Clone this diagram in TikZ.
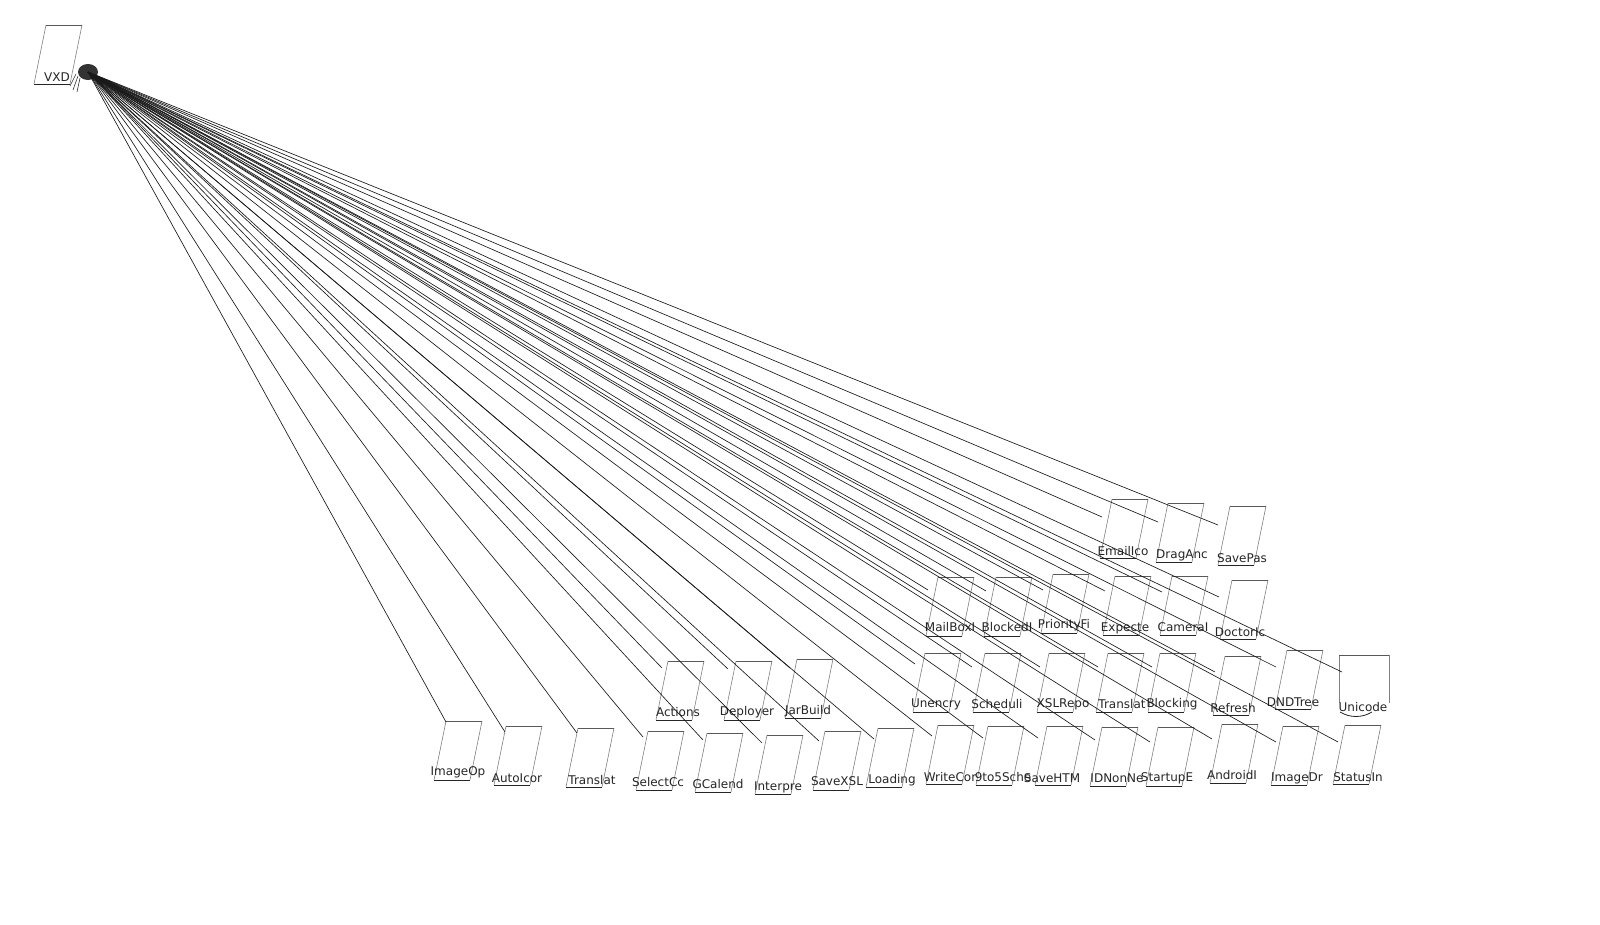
\documentclass[tikz,border=0pt]{standalone}
\usepackage{fontspec}
\setmainfont{DejaVu Sans}
\usetikzlibrary{shapes.geometric}
\tikzset{
  pgside/.style={draw=black!50,line width=0.6pt},
  pgtop/.style={draw=black!65,line width=0.7pt},
  pgbot/.style={draw=black!85,line width=0.8pt},
  lbl/.style={inner sep=0pt,text=black!85,font=\fontsize{12}{12}\selectfont},
  edge/.style={draw=black!90,line width=0.65pt},
}
\newcommand\pgn[8]{%
  \draw[pgside] (#2,#3) -- ++(-12,59);
  \draw[pgside] ({#2+36},#3) -- ++(-12,59);
  \draw[pgtop] (#2,#3) -- ++(36,0);
  \draw[pgbot] ({#2-12},{#3+59}) -- ++(36,0);
  \node[lbl] (#1) at (#5,#6) {#4};
  \coordinate (#1-e) at (#7,#8);
}
\begin{document}
\begin{tikzpicture}[x=1pt,y=-1pt]
\useasboundingbox[fill=white] (0,0) rectangle (1600,924);
% root
\pgn{vxd}{46}{25}{VXD}{57}{77}{87}{74}
\node[ellipse,fill=black!80,minimum width=20pt,minimum height=16pt,inner sep=0pt] (hub) at (88,72) {};
\draw[black!80,line width=0.6pt] (78,76) -- (73,90) (80,78) -- (77,92) (76,74) -- (70,86);
% row 1
\pgn{a1}{1112}{499}{EmailIco}{1123}{551}{1102}{517}
\pgn{a2}{1168}{503}{DragAnc}{1182}{555}{1158}{522}
\pgn{a3}{1230}{506}{SavePas}{1242}{558}{1218}{525}
% row 2
\pgn{b1}{938}{577}{MailBoxI}{950}{627}{928}{590}
\pgn{b2}{996}{577}{BlockedI}{1007}{627}{986}{591}
\pgn{b3}{1053}{574}{PriorityFi}{1064}{625}{1043}{590}
\pgn{b4}{1115}{576}{Expecte}{1125}{628}{1105}{591}
\pgn{b5}{1172}{576}{CameraI}{1183}{627}{1162}{592}
\pgn{b6}{1232}{580}{DoctorIc}{1240}{632}{1219}{597}
% row 3
\pgn{c1}{668}{661}{Actions}{678}{712}{662}{668}
\pgn{c2}{736}{661}{Deployer}{747}{712}{728}{669}
\pgn{c3}{797}{659}{JarBuild}{808}{711}{790}{668}
\pgn{c4}{925}{653}{Unencry}{936}{704}{915}{664}
\pgn{c5}{985}{653}{Scheduli}{997}{704}{972}{667}
\pgn{c6}{1049}{653}{XSLRepo}{1063}{704}{1040}{667}
\pgn{c7}{1108}{653}{Translat}{1122}{704}{1098}{667}
\pgn{c8}{1160}{653}{Blocking}{1172}{704}{1152}{667}
\pgn{c9}{1225}{656}{Refresh}{1233}{708}{1215}{672}
\pgn{c10}{1287}{650}{DNDTree}{1293}{702}{1276}{667}
% Unicode (rectangle)
\draw[pgside] (1339,655) -- (1339,703);
\draw[pgside] (1389,655) -- (1389,703);
\draw[pgtop] (1339,655) -- (1389,655);
\node[lbl] (c11) at (1363,707) {Unicode};
\draw[pgbot] (1340,712) .. controls (1350,718) and (1362,718) .. (1372,712);
\coordinate (c11-e) at (1342,672);
% row 4
\pgn{d1}{446}{721}{ImageOp}{458}{772}{446}{722}
\pgn{d2}{506}{726}{AutoIcor}{517}{778}{505}{732}
\pgn{d3}{578}{728}{Translat}{592}{780}{577}{733}
\pgn{d4}{648}{731}{SelectCc}{658}{782}{643}{737}
\pgn{d5}{707}{733}{GCalend}{718}{784}{703}{740}
\pgn{d6}{767}{735}{Interpre}{778}{787}{762}{743}
\pgn{d7}{825}{731}{SaveXSL}{837}{781}{819}{741}
\pgn{d8}{878}{728}{Loading}{892}{780}{874}{739}
\pgn{d9}{938}{725}{WriteCor}{950}{777}{932}{736}
\pgn{d10}{988}{726}{9to5Sche}{1003}{777}{983}{738}
\pgn{d11}{1047}{726}{SaveHTM}{1052}{778}{1038}{738}
\pgn{d12}{1102}{727}{IDNonNe}{1117}{778}{1095}{740}
\pgn{d13}{1158}{727}{StartupE}{1167}{778}{1150}{742}
\pgn{d14}{1222}{724}{AndroidI}{1232}{775}{1212}{739}
\pgn{d15}{1283}{726}{ImageDr}{1297}{778}{1276}{742}
\pgn{d16}{1345}{725}{StatusIn}{1358}{777}{1338}{742}
% edges
\foreach \n in {a1,a2,a3,b1,b2,b3,b4,b5,b6,c1,c2,c3,c4,c5,c6,c7,c8,c9,c10,c11,
  d1,d2,d3,d4,d5,d6,d7,d8,d9,d10,d11,d12,d13,d14,d15,d16}
  \draw[edge] (hub.center) -- (\n-e);
\end{tikzpicture}
\end{document}
